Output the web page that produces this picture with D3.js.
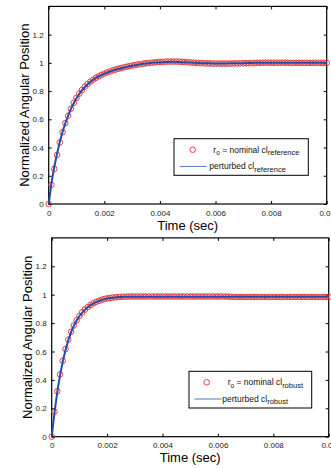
<!DOCTYPE html>
<html>
<head>
  <meta charset="UTF-8">
  <title>angular-position</title>
  <style type="text/css">
    body { margin: 0; background: #fff; }
    svg { display: block; font-family: "Liberation Sans", Arial, sans-serif; }
    .frame { fill: none; stroke: #000; stroke-width: 1.2px; }
    .tick line { stroke: #000; }
    .tick text { font-size: 8px; fill: #222; }
    .label { font-size: 13px; fill: #000; }
    .lgd { font-size: 8.5px; fill: #111; }
  </style>
</head>
<body>
  <div class="svg-zone"></div>
  <script src="https://cdn.jsdelivr.net/npm/d3@7"></script>
  <script type="text/javascript">
    // sample step 0.0001 s, 0 .. 0.01
    var dt = 0.0001;
    var xTicks = [0, 0.002, 0.004, 0.006, 0.008, 0.01];
    var yTicks = [0, 0.2, 0.4, 0.6, 0.8, 1, 1.2];

    var refNominal = [0, 0.135, 0.249, 0.348, 0.436, 0.509, 0.573, 0.625, 0.675, 0.716,
      0.752, 0.782, 0.808, 0.831, 0.850, 0.867, 0.881, 0.894, 0.905, 0.915,
      0.924, 0.932, 0.939, 0.946, 0.952, 0.958, 0.963, 0.968, 0.972, 0.977,
      0.981, 0.984, 0.988, 0.991, 0.994, 0.997, 0.999, 1.001, 1.003, 1.005,
      1.006, 1.007, 1.008, 1.009, 1.009, 1.009, 1.009, 1.008, 1.007, 1.006,
      1.004, 1.003, 1.001, 1.000, 0.999, 0.998, 0.997, 0.996, 0.996, 0.995,
      0.995, 0.995, 0.995, 0.995, 0.995, 0.995, 0.996, 0.996, 0.996, 0.997,
      0.997, 0.998, 0.998, 0.999, 0.999, 1.000, 1.000, 1.001, 1.001, 1.001,
      1.001, 1.001, 1.001, 1.001, 1.001, 1.001, 1.001, 1.000, 1.000, 1.000,
      1.000, 1.000, 1.000, 1.000, 1.000, 1.000, 1.000, 1.000, 1.000, 1.000, 1.000];
    var refPerturbed = [0, 0.150, 0.262, 0.357, 0.441, 0.512, 0.574, 0.626, 0.674, 0.714,
      0.750, 0.780, 0.806, 0.829, 0.848, 0.865, 0.880, 0.893, 0.904, 0.914,
      0.923, 0.931, 0.939, 0.945, 0.951, 0.957, 0.962, 0.967, 0.971, 0.976,
      0.980, 0.983, 0.987, 0.990, 0.993, 0.996, 0.998, 1.000, 1.002, 1.003,
      1.004, 1.005, 1.006, 1.006, 1.007, 1.007, 1.006, 1.006, 1.005, 1.004,
      1.003, 1.002, 1.001, 1.000, 0.999, 0.998, 0.998, 0.997, 0.997, 0.996,
      0.996, 0.996, 0.996, 0.996, 0.996, 0.997, 0.997, 0.997, 0.998, 0.998,
      0.998, 0.999, 0.999, 0.999, 1.000, 1.000, 1.000, 1.000, 1.001, 1.001,
      1.001, 1.001, 1.001, 1.000, 1.000, 1.000, 1.000, 1.000, 1.000, 1.000,
      1.000, 1.000, 1.000, 1.000, 1.000, 1.000, 1.000, 1.000, 1.000, 1.000, 1.000];

    var robNominal = [0, 0.176, 0.320, 0.439, 0.535, 0.617, 0.684, 0.739, 0.783, 0.820,
      0.851, 0.876, 0.896, 0.913, 0.927, 0.939, 0.949, 0.957, 0.964, 0.970,
      0.974, 0.977, 0.980, 0.982, 0.984, 0.985, 0.986, 0.986, 0.987, 0.987,
      0.987, 0.987, 0.987, 0.987, 0.987, 0.987, 0.987, 0.987, 0.987, 0.987,
      0.987, 0.987, 0.987, 0.987, 0.987, 0.987, 0.987, 0.987, 0.987, 0.987,
      0.987, 0.987, 0.987, 0.987, 0.987, 0.987, 0.987, 0.987, 0.987, 0.987,
      0.987, 0.987, 0.987, 0.987, 0.986, 0.985, 0.984, 0.984, 0.984, 0.984,
      0.984, 0.984, 0.984, 0.984, 0.984, 0.984, 0.984, 0.984, 0.984, 0.984,
      0.984, 0.984, 0.984, 0.984, 0.984, 0.984, 0.984, 0.984, 0.984, 0.984,
      0.984, 0.984, 0.984, 0.984, 0.984, 0.984, 0.984, 0.984, 0.984, 0.984, 0.984];
    var robPerturbed = [0, 0.168, 0.312, 0.432, 0.530, 0.612, 0.680, 0.736, 0.781, 0.818,
      0.849, 0.874, 0.895, 0.912, 0.926, 0.938, 0.948, 0.956, 0.963, 0.969,
      0.973, 0.976, 0.979, 0.981, 0.983, 0.984, 0.985, 0.985, 0.986, 0.986,
      0.986, 0.986, 0.986, 0.986, 0.986, 0.986, 0.986, 0.986, 0.986, 0.986,
      0.986, 0.986, 0.986, 0.986, 0.986, 0.986, 0.986, 0.986, 0.986, 0.986,
      0.986, 0.986, 0.986, 0.986, 0.986, 0.986, 0.986, 0.986, 0.986, 0.986,
      0.986, 0.986, 0.986, 0.986, 0.985, 0.985, 0.985, 0.985, 0.985, 0.985,
      0.985, 0.985, 0.985, 0.985, 0.985, 0.985, 0.985, 0.985, 0.985, 0.985,
      0.985, 0.985, 0.985, 0.985, 0.985, 0.985, 0.985, 0.985, 0.985, 0.985,
      0.985, 0.985, 0.985, 0.985, 0.985, 0.985, 0.985, 0.985, 0.985, 0.985, 0.985];

    var panels = [
      { nominal: refNominal, perturbed: refPerturbed, sub: "reference",
        left: 48.7, right: 326.7, top: 6.4, bottom: 204, ylabX: 24,
        legend: { x: 174, y: 138.7, w: 134.3, h: 36.6, mx: 192.7, tx1: 213.3, lx0: 180, lx1: 206.7, tx2: 209.3 } },
      { nominal: robNominal, perturbed: robPerturbed, sub: "robust",
        left: 51.7, right: 328.7, top: 237.9, bottom: 436.7, ylabX: 27,
        legend: { x: 189, y: 371.3, w: 122.7, h: 36.7, mx: 206.7, tx1: 227.7, lx0: 194.3, lx1: 221.7, tx2: 222.3 } }
    ];

    var width = 331, height = 468;
    var red = "#ee2a2a", blue = "#1f4ea6";

    var svg = d3.select(".svg-zone").append("svg")
      .attr("width", width)
      .attr("height", height);

    panels.forEach(function (p) {
      var x = d3.scaleLinear().domain([0, 0.01]).range([p.left, p.right]);
      var y = d3.scaleLinear().domain([0, 1.4]).range([p.bottom, p.top]);
      var tk = 3;

      var g = svg.append("g");

      // ticks inward, all four sides
      g.append("g").attr("transform", "translate(0," + p.bottom + ")")
        .call(d3.axisBottom(x).tickValues(xTicks).tickSize(-tk).tickPadding(6)
          .tickFormat(function (d) { return d === 0 ? "0" : d3.format("")(+d.toFixed(3)); }))
        .call(function (a) { a.select(".domain").remove(); });
      g.append("g").attr("transform", "translate(0," + p.top + ")")
        .call(d3.axisTop(x).tickValues(xTicks).tickSize(-tk).tickFormat(""))
        .call(function (a) { a.select(".domain").remove(); });
      g.append("g").attr("transform", "translate(" + p.left + ",0)")
        .call(d3.axisLeft(y).tickValues(yTicks).tickSize(-tk).tickPadding(5)
          .tickFormat(function (d) { return d3.format("")(+d.toFixed(1)); }))
        .call(function (a) { a.select(".domain").remove(); });
      g.append("g").attr("transform", "translate(" + p.right + ",0)")
        .call(d3.axisRight(y).tickValues(yTicks).tickSize(-tk).tickFormat(""))
        .call(function (a) { a.select(".domain").remove(); });

      g.append("rect").attr("class", "frame")
        .attr("x", p.left).attr("y", p.top)
        .attr("width", p.right - p.left).attr("height", p.bottom - p.top);

      // curves
      var line = d3.line()
        .x(function (d, i) { return x(i * dt); })
        .y(function (d) { return y(d); });

      g.selectAll(".pt")
        .data(p.nominal)
        .enter().append("circle")
        .attr("cx", function (d, i) { return x(i * dt); })
        .attr("cy", function (d) { return y(d); })
        .attr("r", 2.8)
        .attr("fill", "none")
        .attr("stroke", red)
        .attr("stroke-width", 0.9);

      g.append("path")
        .datum(p.perturbed)
        .attr("d", line)
        .attr("fill", "none")
        .attr("stroke", blue)
        .attr("stroke-width", 2);

      // axis labels
      g.append("text").attr("class", "label")
        .attr("x", (p.left + p.right) / 2).attr("y", p.bottom + 25.5)
        .attr("text-anchor", "middle")
        .text("Time (sec)");
      g.append("text").attr("class", "label")
        .attr("transform", "translate(" + p.ylabX + "," + (p.top + p.bottom) / 2 + ") rotate(-90)")
        .attr("text-anchor", "middle")
        .attr("dy", "0.35em")
        .text("Normalized Angular Position");

      // legend
      var L = p.legend;
      var lg = g.append("g");
      lg.append("rect")
        .attr("x", L.x).attr("y", L.y).attr("width", L.w).attr("height", L.h)
        .attr("fill", "#fff").attr("stroke", "#000").attr("stroke-width", 1);
      lg.append("circle")
        .attr("cx", L.mx).attr("cy", L.y + 11).attr("r", 2.8)
        .attr("fill", "none").attr("stroke", red).attr("stroke-width", 0.9);
      var t1 = lg.append("text").attr("class", "lgd").attr("x", L.tx1).attr("y", L.y + 14);
      t1.append("tspan").text("r");
      t1.append("tspan").attr("dy", 2.5).attr("font-size", "6.5px").text("o");
      t1.append("tspan").attr("dy", -2.5).text(" = nominal cl");
      t1.append("tspan").attr("dy", 2.5).attr("font-size", "7.5px").text(p.sub);

      lg.append("line")
        .attr("x1", L.lx0).attr("x2", L.lx1).attr("y1", L.y + 27.7).attr("y2", L.y + 27.7)
        .attr("stroke", "#5577c4").attr("stroke-width", 1);
      var t2 = lg.append("text").attr("class", "lgd").attr("x", L.tx2).attr("y", L.y + 30.5);
      t2.append("tspan").text("perturbed cl");
      t2.append("tspan").attr("dy", 2.5).attr("font-size", "7.5px").text(p.sub);
    });
  </script>
</body>
</html>
